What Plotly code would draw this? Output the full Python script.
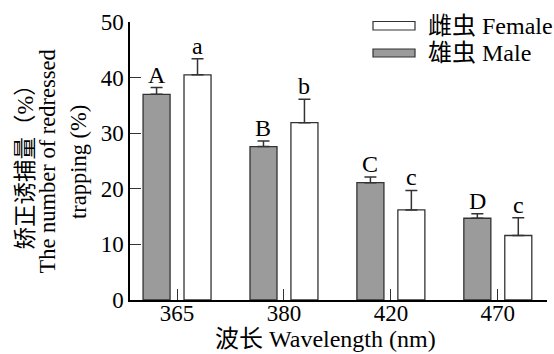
import plotly.graph_objects as go

categories = ["365", "380", "420", "470"]
male = [37.0, 27.6, 21.1, 14.7]
male_err = [1.2, 1.0, 1.0, 0.8]
female = [40.5, 31.9, 16.2, 11.6]
female_err = [2.9, 4.2, 3.5, 3.2]
male_letters = ["A", "B", "C", "D"]
female_letters = ["a", "b", "c", "c"]
ytitle_lines = ["矫正诱捕量（%）", "The number of redressed", "trapping (%)"]

FONT = "Liberation Serif, 'Noto Sans CJK SC', serif"
FS = 23
W, H = 554, 354
L, R, T, B = 130, 7, 22, 54

fig = go.Figure()
fig.add_trace(go.Bar(
    x=categories, y=male, name="雄虫 Male",
    marker=dict(color="#9b9b9b", line=dict(color="#333333", width=1.3)),
    error_y=dict(type="data", array=male_err, arrayminus=[0]*4, symmetric=False,
                 color="#333333", thickness=1.5, width=6),
))
fig.add_trace(go.Bar(
    x=categories, y=female, name="雌虫 Female",
    marker=dict(color="white", line=dict(color="#333333", width=1.3)),
    error_y=dict(type="data", array=female_err, arrayminus=[0]*4, symmetric=False,
                 color="#333333", thickness=1.5, width=6),
))

ann = []
for i, c in enumerate(categories):
    ann.append(dict(x=i, y=male[i] + male_err[i], xref="x", yref="y", text=male_letters[i],
                    showarrow=False, xanchor="center", yanchor="bottom", xshift=-20.5, yshift=-2,
                    font=dict(family=FONT, size=24, color="black")))
    ann.append(dict(x=i, y=female[i] + female_err[i], xref="x", yref="y", text=female_letters[i],
                    showarrow=False, xanchor="center", yanchor="bottom", xshift=20.5, yshift=-2,
                    font=dict(family=FONT, size=24, color="black")))

pw = W - L - R
ph = H - T - B
def px(x):
    return (x - L) / pw
def py(y):
    return (H - B - y) / ph

# y-axis title (three lines)
for txt, xc in zip(ytitle_lines, [24.5, 46.5, 78]):
    ann.append(dict(x=px(xc), y=py(162), xref="paper", yref="paper",
                    text=txt, textangle=-90, showarrow=False,
                    xanchor="center", yanchor="middle",
                    font=dict(family=FONT, size=22.5, color="black")))
# x-axis title
ann.append(dict(x=px(325), y=py(339), xref="paper", yref="paper",
                text="波长 Wavelength (nm)", showarrow=False, xanchor="center", yanchor="middle",
                font=dict(family=FONT, size=24, color="black")))

# legend (manual)
shapes = []
leg = [("雌虫 Female", "white", 21.5, 30), ("雄虫 Male", "#9b9b9b", 49, 57)]
for text, col, y0, y1 in leg:
    shapes.append(dict(type="rect", xref="paper", yref="paper",
                       x0=px(373), x1=px(415), y0=py(y1), y1=py(y0),
                       fillcolor=col, line=dict(color="#333333", width=1.2)))
    ann.append(dict(x=px(426), y=py((y0 + y1) / 2), xref="paper", yref="paper",
                    text=text, showarrow=False, xanchor="left", yanchor="middle",
                    font=dict(family=FONT, size=24, color="black")))

fig.update_layout(
    width=W, height=H,
    margin=dict(l=L, r=R, t=T, b=B),
    paper_bgcolor="white", plot_bgcolor="white",
    barmode="group", bargap=0.234, bargroupgap=0.34,
    showlegend=False,
    font=dict(family=FONT, size=FS, color="black"),
    annotations=ann, shapes=shapes,
    xaxis=dict(type="category", range=[-0.44, 3.46], showline=True, linecolor="black", linewidth=1.5,
               ticks="inside", ticklen=11, tickwidth=1.3, tickcolor="#333333",
               showgrid=False, zeroline=False, ticklabelstandoff=-8,
               tickfont=dict(family=FONT, size=FS, color="black")),
    yaxis=dict(range=[0, 50], tickvals=[0, 10, 20, 30, 40, 50], showline=True, linecolor="black",
               linewidth=1.5, ticks="inside", ticklen=11, tickwidth=1.3, tickcolor="#333333",
               showgrid=False, zeroline=False,
               tickfont=dict(family=FONT, size=FS, color="black")),
)

fig.write_html("out.html")
